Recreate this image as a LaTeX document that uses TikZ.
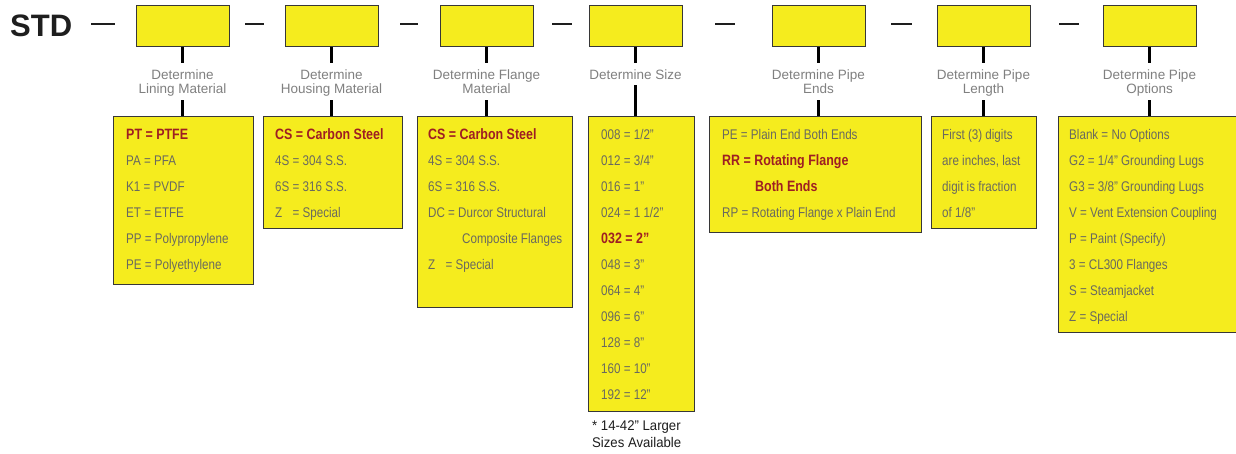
\documentclass[tikz,border=0pt]{standalone}
\usepackage{fontspec}
\setmainfont{Liberation Sans}
\newfontfamily\condfont[FakeStretch=0.83]{Liberation Sans}
\newfontfamily\notefont[FakeStretch=0.94]{Liberation Sans}
\definecolor{boxyellow}{RGB}{245,236,30}
\definecolor{boxline}{RGB}{55,55,55}
\definecolor{optgray}{RGB}{105,105,95}
\definecolor{optred}{RGB}{158,30,35}
\definecolor{lblgray}{RGB}{128,128,128}
\definecolor{stdblack}{RGB}{30,30,30}
\newcommand\twolines[2]{\vbox{\halign{\hfil##\hfil\cr#1\cr#2\cr}}}
\newcommand\optlines[1]{\vtop{\baselineskip=26pt\lineskiplimit=-100pt\lineskip=0pt #1}}
\newcommand\redtxt[1]{{\bfseries\fontsize{15}{26}\selectfont\color{optred}#1}}
\tikzset{
  topbox/.style={draw=boxline, line width=1pt, fill=boxyellow, minimum width=93pt, minimum height=41pt, inner sep=0pt},
  optbox/.style={draw=boxline, line width=1pt, fill=boxyellow, anchor=north west, inner sep=0pt},
  lbl/.style={anchor=base, inner sep=0pt, font=\fontsize{13.5}{14}\selectfont, text=lblgray},
  lbltwo/.style={lbl, text height=31pt, text depth=6pt},
  lblone/.style={lbl, text height=17pt, text depth=5pt},
  opttext/.style={anchor=base west, inner sep=0pt, font=\condfont\fontsize{14}{26}\selectfont, text=optgray},
  conn/.style={line width=2.2pt, black},
  sepline/.style={line width=2pt, stdblack}
}
\begin{document}
\begin{tikzpicture}[x=1pt,y=-1pt]
\fill[white] (0,0) rectangle (1236,454);
\useasboundingbox (0,0) rectangle (1236,454);

% title
\node[anchor=base west, inner sep=0pt, font=\bfseries\fontsize{31}{31}\selectfont, text=stdblack] (std) at (10,37) {STD};

% separators
\draw[sepline] (91,24) -- (115,24);
\draw[sepline] (245,24) -- (264,24);
\draw[sepline] (400,24) -- (418,24);
\draw[sepline] (552,24) -- (572,24);
\draw[sepline] (715,24) -- (735,24);
\draw[sepline] (891,24) -- (912,24);
\draw[sepline] (1059,24) -- (1079,24);

% top boxes
\node[topbox] (t1) at (182.5,26.5) {};
\node[topbox] (t2) at (331.5,26.5) {};
\node[topbox] (t3) at (486.5,26.5) {};
\node[topbox] (t4) at (635.5,26.5) {};
\node[topbox] (t5) at (818.5,26.5) {};
\node[topbox] (t6) at (983.5,26.5) {};
\node[topbox] (t7) at (1149.5,26.5) {};

% labels
\node[lbltwo] (l1) at (182.5,94) {\twolines{Determine}{Lining Material}};
\node[lbltwo] (l2) at (331.5,94) {\twolines{Determine}{Housing Material}};
\node[lbltwo] (l3) at (486.5,94) {\twolines{Determine Flange}{Material}};
\node[lblone] (l4) at (635.5,80) {Determine Size};
\node[lbltwo] (l5) at (818.5,94) {\twolines{Determine Pipe}{Ends}};
\node[lbltwo] (l6) at (983.5,94) {\twolines{Determine Pipe}{Length}};
\node[lbltwo] (l7) at (1149.5,94) {\twolines{Determine Pipe}{Options}};

% option boxes
\node[optbox, minimum width=140pt, minimum height=168pt] (b1) at (113,116) {};
\node[optbox, minimum width=139pt, minimum height=112pt] (b2) at (263,116) {};
\node[optbox, minimum width=155pt, minimum height=191pt] (b3) at (417,116) {};
\node[optbox, minimum width=106pt, minimum height=295pt] (b4) at (588,116) {};
\node[optbox, minimum width=212pt, minimum height=116pt] (b5) at (709,116) {};
\node[optbox, minimum width=105pt, minimum height=112pt] (b6) at (931,116) {};
\node[optbox, minimum width=179pt, minimum height=216pt] (b7) at (1058,116) {};

% connectors
\foreach \i in {1,...,7}{
  \draw[conn] (t\i.south) -- (l\i.north);
  \draw[conn] (l\i.south) -- (l\i.south |- b\i.north);
}

% option texts
\node[opttext] (o1) at (126,139.2) {\optlines{%
  \hbox{\redtxt{PT = PTFE}}
  \hbox{PA = PFA}
  \hbox{K1 = PVDF}
  \hbox{ET = ETFE}
  \hbox{PP = Polypropylene}
  \hbox{PE = Polyethylene}}};
\node[opttext] (o2) at (275,139.2) {\optlines{%
  \hbox{\redtxt{CS = Carbon Steel}}
  \hbox{4S = 304 S.S.}
  \hbox{6S = 316 S.S.}
  \hbox{\rlap{Z}\phantom{4S} = Special}}};
\node[opttext] (o3) at (428,139.2) {\optlines{%
  \hbox{\redtxt{CS = Carbon Steel}}
  \hbox{4S = 304 S.S.}
  \hbox{6S = 316 S.S.}
  \hbox{DC = Durcor Structural}
  \hbox{\hskip34pt Composite Flanges}
  \hbox{\rlap{Z}\phantom{4S} = Special}}};
\node[opttext] (o4) at (601,139.2) {\optlines{%
  \hbox{008 = 1/2”}
  \hbox{012 = 3/4”}
  \hbox{016 = 1”}
  \hbox{024 = 1 1/2”}
  \hbox{\redtxt{032 = 2”}}
  \hbox{048 = 3”}
  \hbox{064 = 4”}
  \hbox{096 = 6”}
  \hbox{128 = 8”}
  \hbox{160 = 10”}
  \hbox{192 = 12”}}};
\node[opttext] (o5) at (722,139.2) {\optlines{%
  \hbox{PE = Plain End Both Ends}
  \hbox{\redtxt{RR = Rotating Flange}}
  \hbox{\hskip33pt\redtxt{Both Ends}}
  \hbox{RP = Rotating Flange x Plain End}}};
\node[opttext] (o6) at (942,139.2) {\optlines{%
  \hbox{First (3) digits}
  \hbox{are inches, last}
  \hbox{digit is fraction}
  \hbox{of 1/8”}}};
\node[opttext] (o7) at (1069,139.2) {\optlines{%
  \hbox{Blank = No Options}
  \hbox{G2 = 1/4” Grounding Lugs}
  \hbox{G3 = 3/8” Grounding Lugs}
  \hbox{V = Vent Extension Coupling}
  \hbox{P = Paint (Specify)}
  \hbox{3 = CL300 Flanges}
  \hbox{S = Steamjacket}
  \hbox{Z = Special}}};

% footnote
\node[anchor=base west, inner sep=0pt, font=\notefont\fontsize{14}{17.5}\selectfont, text=stdblack] (note) at (592,430)
  {\vtop{\baselineskip=17.5pt\hbox{* 14-42” Larger}\hbox{Sizes Available}}};
\end{tikzpicture}
\end{document}
